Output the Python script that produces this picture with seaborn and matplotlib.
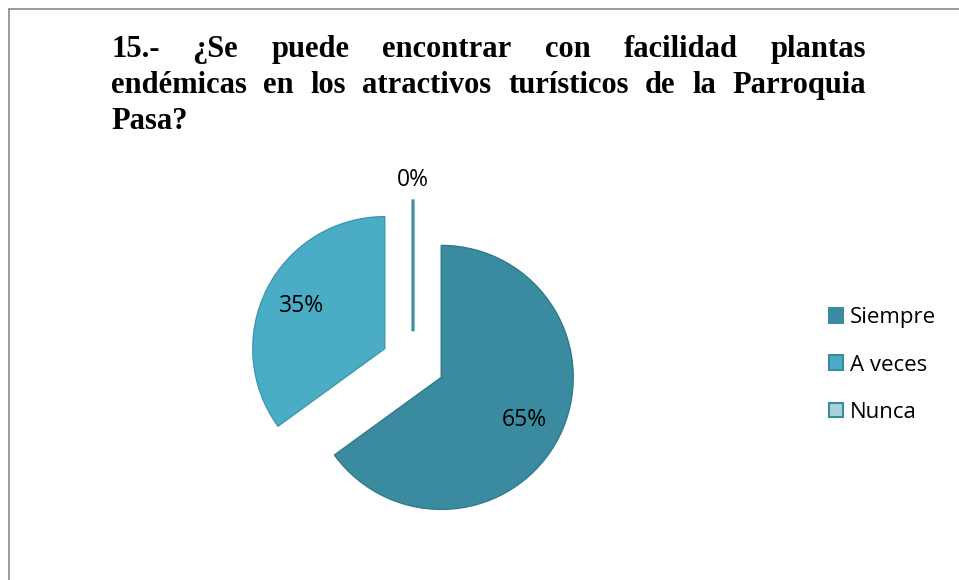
import numpy as np
import matplotlib
matplotlib.use('Agg')
import matplotlib.pyplot as plt
import seaborn as sns
from matplotlib.lines import Line2D

sns.set_style('white')
plt.rcParams['font.family'] = ['Open Sans', 'DejaVu Sans']
plt.rcParams['text.color'] = 'black'

# Datos
categorias = ['Siempre', 'A veces', 'Nunca']
porcentajes = [65, 35, 0]
colores = ['#3B8BA0', '#4BACC6', '#A8D2DE']
bordes = ['#2F7A8E', '#3C97B0', '#3B8BA0']

titulo_1 = ['15.-', '¿Se', 'puede', 'encontrar', 'con', 'facilidad', 'plantas']
titulo_2 = ['endémicas', 'en', 'los', 'atractivos', 'turísticos', 'de', 'la', 'Parroquia']
titulo_3 = 'Pasa?'

W, H = 959, 580
fig = plt.figure(figsize=(W / 100, H / 100), dpi=100)

# Marco gris (izquierda y arriba)
fig.add_artist(Line2D([8.5 / W, 8.5 / W], [0, 1 - 8.5 / H], color='#8a8a8a', lw=1.2))
fig.add_artist(Line2D([8.5 / W, 1], [1 - 8.5 / H, 1 - 8.5 / H], color='#8a8a8a', lw=1.2))

# Titulo justificado
renderer = fig.canvas.get_renderer()
title_kw = dict(family='Liberation Serif', fontweight='bold', fontsize=22,
                color='black', va='baseline', ha='left')


def justify_line(words, x0, x1, y):
    '''Coloca las palabras repartiendo el espacio entre x0 y x1 (pixeles)'''
    texts = [fig.text(0, 1 - y / H, w, **title_kw) for w in words]
    widths = [t.get_window_extent(renderer).width for t in texts]
    gap = (x1 - x0 - sum(widths)) / (len(words) - 1)
    x = x0
    for t, w in zip(texts, widths):
        t.set_x(x / W)
        x += w + gap


justify_line(titulo_1, 111, 866, 57)
justify_line(titulo_2, 111, 866, 93)
fig.text(111 / W, 1 - 129 / H, titulo_3, **title_kw)

# Pastel: centro (413, 363) px, radio 132 px
cx, cy, r = 413, 363, 132
lim = 1.5
ax = fig.add_axes([(cx - lim * r) / W, 1 - (cy + lim * r) / H, 2 * lim * r / W, 2 * lim * r / H])
explode = [0.24, 0.24, 0.24]
wedges, texts, autotexts = ax.pie(porcentajes, colors=colores, explode=explode,
                                  startangle=90, counterclock=False,
                                  autopct='%1.0f%%', pctdistance=0.71,
                                  textprops=dict(fontsize=16.5, color='black'))
for wdg, ec in zip(wedges, bordes):
    wdg.set_edgecolor(ec)
    wdg.set_linewidth(1.0)
for i, v in enumerate(porcentajes):
    if v == 0:
        wedges[i].set_linewidth(2.2)
        ang = np.deg2rad((wedges[i].theta1 + wedges[i].theta2) / 2)
        d = explode[i] + 1.15
        autotexts[i].set_position((d * np.cos(ang), d * np.sin(ang)))
ax.set_xlim(-lim, lim)
ax.set_ylim(-lim, lim)
ax.set_aspect('equal')
ax.axis('off')

# Leyenda
leg = fig.legend(wedges, categorias, loc='center left',
                 bbox_to_anchor=(829 / W, 1 - 365 / H), frameon=False,
                 fontsize=16, handlelength=0.65, handleheight=0.65,
                 handletextpad=0.3, labelspacing=1.18, borderpad=0, borderaxespad=0)
for h in leg.legend_handles:
    h.set_linewidth(1.5)
    h.set_edgecolor('#3B8BA0')

fig.savefig('out.png', dpi=100, facecolor='white')
